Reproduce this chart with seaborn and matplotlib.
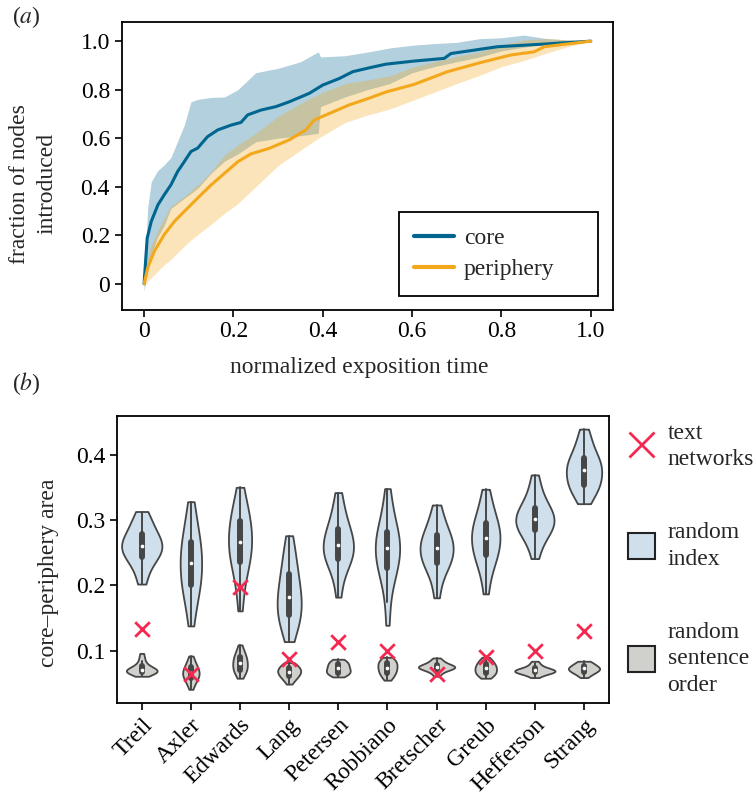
import matplotlib
matplotlib.use('Agg')
import matplotlib.pyplot as plt
import pandas as pd
import seaborn as sns
from matplotlib.lines import Line2D
from matplotlib.patches import Patch


# ---- panel (a): fraction of nodes introduced vs normalized time ----
CORE_X = [0, 0.007, 0.016, 0.031, 0.045, 0.06, 0.075, 0.09, 0.105, 0.12, 0.142,
          0.165, 0.195, 0.217, 0.232, 0.262, 0.295, 0.325, 0.37, 0.40, 0.437,
          0.467, 0.504, 0.541, 0.605, 0.672, 0.687, 0.739, 0.791, 0.896, 1.0]
CORE_Y = [0, 0.188, 0.256, 0.325, 0.366, 0.407, 0.462, 0.503, 0.545, 0.559, 0.606,
          0.634, 0.654, 0.665, 0.696, 0.716, 0.73, 0.75, 0.785, 0.819, 0.846,
          0.874, 0.89, 0.905, 0.918, 0.929, 0.949, 0.963, 0.977, 0.988, 1.0]

PERIPH_X = [0, 0.008, 0.023, 0.045, 0.068, 0.09, 0.12, 0.15, 0.18, 0.21, 0.239,
            0.28, 0.325, 0.362, 0.381, 0.415, 0.459, 0.504, 0.541, 0.605, 0.679,
            0.754, 0.821, 0.873, 0.896, 1.0]
PERIPH_Y = [0, 0.064, 0.134, 0.202, 0.257, 0.298, 0.353, 0.407, 0.455, 0.503, 0.535,
            0.558, 0.593, 0.634, 0.675, 0.702, 0.737, 0.765, 0.79, 0.822, 0.874,
            0.912, 0.943, 0.956, 0.977, 1.0]

BAND_X = [0, 0.008, 0.016, 0.03, 0.045, 0.06, 0.09, 0.105, 0.12, 0.15, 0.18, 0.21,
          0.25, 0.3, 0.35, 0.39, 0.395, 0.45, 0.5, 0.55, 0.6, 0.65, 0.7, 0.75,
          0.8, 0.85, 0.9, 0.95, 1.0]
CORE_LOW = [-0.03, 0.05, 0.12, 0.19, 0.24, 0.31, 0.352, 0.372, 0.393, 0.455, 0.505,
            0.535, 0.585, 0.60, 0.61, 0.62, 0.73, 0.77, 0.80, 0.825, 0.87, 0.895,
            0.915, 0.934, 0.96, 0.975, 0.99, 0.995, 1.0]
CORE_HIGH = [0, 0.31, 0.42, 0.465, 0.49, 0.52, 0.654, 0.75, 0.76, 0.768, 0.77, 0.80,
             0.87, 0.888, 0.915, 0.956, 0.935, 0.94, 0.955, 0.972, 0.983, 0.99,
             0.995, 1.01, 1.014, 1.025, 1.011, 1.005, 1.0]
PERIPH_LOW = [-0.01, 0.01, 0.024, 0.05, 0.078, 0.10, 0.155, 0.18, 0.202, 0.245, 0.29,
              0.33, 0.40, 0.487, 0.55, 0.60, 0.605, 0.665, 0.695, 0.72, 0.755, 0.79,
              0.825, 0.858, 0.895, 0.92, 0.95, 0.978, 1.0]
PERIPH_HIGH = [0, 0.107, 0.16, 0.216, 0.27, 0.32, 0.36, 0.385, 0.407, 0.462, 0.53,
               0.572, 0.62, 0.69, 0.743, 0.78, 0.785, 0.825, 0.84, 0.857, 0.892,
               0.915, 0.937, 0.955, 0.984, 1.005, 1.011, 1.005, 1.0]

# ---- panel (b): core-periphery area per book ----
AUTHORS = ['Treil', 'Axler', 'Edwards', 'Lang', 'Petersen', 'Robbiano',
           'Bretscher', 'Greub', 'Hefferson', 'Strang']
TEXT_NETWORKS = [0.134, 0.065, 0.198, 0.088, 0.114, 0.100, 0.064, 0.090, 0.099, 0.131]

# null model: random index
RANDOM_INDEX = [
    [0.202, 0.215, 0.228, 0.236, 0.241, 0.244, 0.248, 0.252, 0.255, 0.258, 0.261,
     0.264, 0.267, 0.270, 0.275, 0.279, 0.284, 0.290, 0.297, 0.305, 0.313],
    [0.138, 0.158, 0.175, 0.187, 0.195, 0.200, 0.207, 0.214, 0.221, 0.228, 0.235,
     0.241, 0.248, 0.254, 0.261, 0.267, 0.275, 0.285, 0.297, 0.311, 0.328],
    [0.161, 0.188, 0.207, 0.222, 0.231, 0.236, 0.243, 0.250, 0.256, 0.262, 0.267,
     0.273, 0.280, 0.286, 0.292, 0.298, 0.305, 0.313, 0.322, 0.334, 0.350],
    [0.114, 0.127, 0.137, 0.145, 0.150, 0.154, 0.160, 0.166, 0.172, 0.178, 0.183,
     0.189, 0.196, 0.203, 0.210, 0.218, 0.227, 0.237, 0.248, 0.261, 0.276],
    [0.182, 0.205, 0.222, 0.232, 0.237, 0.241, 0.245, 0.249, 0.253, 0.258, 0.262,
     0.266, 0.271, 0.276, 0.281, 0.286, 0.293, 0.301, 0.312, 0.325, 0.342],
    [0.139, 0.175, 0.200, 0.214, 0.222, 0.227, 0.233, 0.239, 0.245, 0.251, 0.257,
     0.262, 0.267, 0.272, 0.277, 0.281, 0.289, 0.299, 0.311, 0.327, 0.348],
    [0.181, 0.203, 0.218, 0.227, 0.232, 0.235, 0.240, 0.244, 0.249, 0.253, 0.257,
     0.261, 0.265, 0.269, 0.273, 0.277, 0.283, 0.290, 0.299, 0.310, 0.323],
    [0.187, 0.210, 0.226, 0.236, 0.242, 0.246, 0.252, 0.257, 0.263, 0.268, 0.273,
     0.277, 0.282, 0.286, 0.291, 0.295, 0.302, 0.310, 0.320, 0.332, 0.347],
    [0.241, 0.257, 0.268, 0.276, 0.281, 0.284, 0.288, 0.291, 0.295, 0.298, 0.301,
     0.305, 0.308, 0.312, 0.315, 0.319, 0.325, 0.332, 0.341, 0.353, 0.369],
    [0.325, 0.335, 0.342, 0.347, 0.351, 0.354, 0.359, 0.363, 0.368, 0.372, 0.376,
     0.380, 0.384, 0.387, 0.391, 0.395, 0.401, 0.408, 0.417, 0.427, 0.439],
]
# null model: random sentence order
RANDOM_SENTENCE = [
    [0.061, 0.064, 0.065, 0.066, 0.066, 0.067, 0.068, 0.069, 0.069, 0.070, 0.071,
     0.071, 0.072, 0.073, 0.074, 0.076, 0.078, 0.081, 0.085, 0.090, 0.096],
    [0.041, 0.047, 0.051, 0.054, 0.056, 0.058, 0.060, 0.062, 0.063, 0.065, 0.066,
     0.068, 0.069, 0.071, 0.073, 0.075, 0.077, 0.080, 0.083, 0.087, 0.092],
    [0.058, 0.062, 0.065, 0.068, 0.070, 0.071, 0.073, 0.075, 0.077, 0.079, 0.081,
     0.083, 0.085, 0.087, 0.089, 0.091, 0.093, 0.096, 0.099, 0.103, 0.109],
    [0.049, 0.053, 0.056, 0.058, 0.060, 0.061, 0.063, 0.064, 0.065, 0.067, 0.068,
     0.069, 0.070, 0.071, 0.072, 0.074, 0.075, 0.077, 0.078, 0.080, 0.082],
    [0.060, 0.062, 0.064, 0.065, 0.066, 0.066, 0.068, 0.069, 0.070, 0.072, 0.073,
     0.074, 0.075, 0.077, 0.078, 0.080, 0.081, 0.082, 0.084, 0.085, 0.087],
    [0.055, 0.058, 0.061, 0.063, 0.065, 0.066, 0.068, 0.070, 0.071, 0.073, 0.074,
     0.076, 0.077, 0.079, 0.080, 0.082, 0.083, 0.085, 0.086, 0.088, 0.090],
    [0.061, 0.065, 0.068, 0.070, 0.071, 0.072, 0.073, 0.074, 0.074, 0.075, 0.075,
     0.076, 0.076, 0.077, 0.078, 0.079, 0.080, 0.082, 0.084, 0.086, 0.089],
    [0.058, 0.060, 0.062, 0.064, 0.065, 0.066, 0.067, 0.069, 0.070, 0.072, 0.073,
     0.074, 0.075, 0.077, 0.078, 0.080, 0.081, 0.083, 0.085, 0.087, 0.090],
    [0.059, 0.062, 0.064, 0.065, 0.066, 0.067, 0.067, 0.068, 0.068, 0.069, 0.070,
     0.070, 0.071, 0.071, 0.072, 0.073, 0.074, 0.076, 0.078, 0.081, 0.084],
    [0.059, 0.062, 0.064, 0.066, 0.067, 0.068, 0.069, 0.070, 0.071, 0.072, 0.073,
     0.073, 0.074, 0.075, 0.076, 0.077, 0.078, 0.080, 0.081, 0.083, 0.084],
]

CORE_COLOR = '#00658f'
PERIPH_COLOR = '#f3a81c'
INDEX_COLOR = '#cfe0ec'
SENTENCE_COLOR = '#d0d0cc'
CROSS_COLOR = '#f52850'
FS = 17

sns.set_style('ticks')
plt.rcParams['font.family'] = ['Liberation Serif', 'DejaVu Serif']
plt.rcParams['mathtext.fontset'] = 'stix'
plt.rcParams['axes.linewidth'] = 1.3
plt.rcParams['axes.edgecolor'] = 'black'
plt.rcParams['xtick.color'] = 'black'
plt.rcParams['ytick.color'] = 'black'

fig = plt.figure(figsize=(7.56, 7.94), dpi=100)
ax1 = fig.add_axes([0.161, 0.610, 0.650, 0.362])
ax2 = fig.add_axes([0.155, 0.115, 0.650, 0.361])

# ---- (a) ----
ax1.fill_between(BAND_X, CORE_LOW, CORE_HIGH, color=CORE_COLOR, alpha=0.3, lw=0)
ax1.fill_between(BAND_X, PERIPH_LOW, PERIPH_HIGH, color=PERIPH_COLOR, alpha=0.3, lw=0)
sns.lineplot(x=CORE_X, y=CORE_Y, color=CORE_COLOR, lw=2.2, label='core', ax=ax1)
sns.lineplot(x=PERIPH_X, y=PERIPH_Y, color=PERIPH_COLOR, lw=2.2, label='periphery', ax=ax1)

ax1.set_xlim(-0.05, 1.05)
ax1.set_ylim(-0.107, 1.078)
ticks = [0, 0.2, 0.4, 0.6, 0.8, 1.0]
tick_labels = ['0', '0.2', '0.4', '0.6', '0.8', '1.0']
ax1.set_xticks(ticks, tick_labels)
ax1.set_yticks(ticks, tick_labels)
ax1.tick_params(labelsize=FS, width=1.2, length=5)
ax1.set_xlabel('normalized exposition time', fontsize=FS)
ax1.xaxis.set_label_coords(0.484, -0.165)
ax1.set_ylabel('fraction of nodes\nintroduced', fontsize=FS, linespacing=1.4)
ax1.yaxis.set_label_coords(-0.13, 0.4375)
leg = ax1.legend(loc='lower left', bbox_to_anchor=(0.564, 0.049, 0.405, 0.29),
                 mode='expand', borderaxespad=0, fontsize=FS, frameon=True,
                 fancybox=False, edgecolor='black', framealpha=1,
                 handlelength=1.7, handletextpad=0.4, borderpad=0.65, labelspacing=0.4)
leg.get_frame().set_linewidth(1.3)
for line in leg.get_lines():
    line.set_linewidth(3)

# ---- (b) ----
rows = []
for author, idx, sent in zip(AUTHORS, RANDOM_INDEX, RANDOM_SENTENCE):
    rows += [(author, 'random index', v) for v in idx]
    rows += [(author, 'random sentence order', v) for v in sent]
df = pd.DataFrame(rows, columns=['author', 'null model', 'area'])

sns.violinplot(data=df, x='author', y='area', hue='null model', order=AUTHORS,
               hue_order=['random index', 'random sentence order'],
               palette={'random index': INDEX_COLOR, 'random sentence order': SENTENCE_COLOR},
               dodge=False, cut=0, width=0.82, saturation=1, linecolor='#464646',
               linewidth=1.3, legend=False, ax=ax2,
               inner_kws=dict(box_width=4.3, whis_width=1.4, marker='.'))
sns.scatterplot(x=AUTHORS, y=TEXT_NETWORKS, marker='x', color=CROSS_COLOR, s=110,
                linewidth=2, zorder=5, ax=ax2)

ax2.set_xlim(-0.5, 9.5)
ax2.set_ylim(0.0206, 0.459)
ax2.set_yticks([0.1, 0.2, 0.3, 0.4], ['0.1', '0.2', '0.3', '0.4'])
ax2.tick_params(labelsize=FS, width=1.2, length=5)
plt.setp(ax2.get_xticklabels(), rotation=45, ha='right', rotation_mode='anchor')
ax2.set_xlabel('')
ax2.set_ylabel('core\u2013periphery area', fontsize=FS)
ax2.yaxis.set_label_coords(-0.118, 0.453)

handles = [
    Line2D([], [], marker='x', ls='none', color=CROSS_COLOR, markersize=18, mew=2),
    Patch(facecolor=INDEX_COLOR, edgecolor='#222222', lw=1.5),
    Patch(facecolor=SENTENCE_COLOR, edgecolor='#222222', lw=1.5),
]
labels = ['text\nnetworks', 'random\nindex', 'random\nsentence\norder']
leg2 = ax2.legend(handles, labels, loc='upper left', bbox_to_anchor=(1.02, 1.01),
                  frameon=False, fontsize=FS, handlelength=1.13, handleheight=1.36,
                  handletextpad=0.55, labelspacing=2.2, borderaxespad=0)
for t in leg2.get_texts():
    t.set_linespacing(1.35)

fig.text(0.016, 0.978, '($\\mathit{a}$)', fontsize=FS, va='center')
fig.text(0.016, 0.517, '($\\mathit{b}$)', fontsize=FS, va='center')

fig.savefig('out.png', dpi=100)
